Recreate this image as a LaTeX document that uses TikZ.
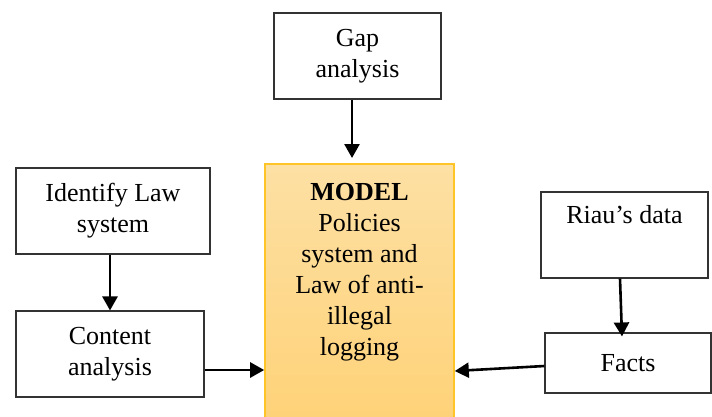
\documentclass[tikz,border=0pt]{standalone}
\usepackage{fontspec}
\setmainfont{Liberation Serif}
\usetikzlibrary{arrows.meta}
\usetikzlibrary{positioning}
\definecolor{modeltop}{RGB}{253,224,164}
\definecolor{modelbottom}{RGB}{254,210,120}
\definecolor{modelline}{RGB}{255,196,40}

\begin{document}
\begin{tikzpicture}[x=1pt,y=-1pt,->,>={Triangle[length=14pt,width=15pt]},line width=2.6pt,
		font=\fontsize{26}{31}\selectfont]
		\tikzstyle{box}=[draw=black!80,line width=1.1pt,align=center,inner sep=0pt]
		\tikzstyle{modelbox}=[draw=modelline,line width=1.6pt,top color=modeltop,bottom color=modelbottom]
		\useasboundingbox (0,0) rectangle (712,416);
		
		\node[box,minimum width=167pt,minimum height=86pt] (gap)     at (357.5,56)  {Gap\\analysis};
		\node[modelbox,minimum width=189pt,minimum height=256pt,anchor=north] (model) at (359.5,163) {};
		\node[align=center,inner sep=0pt] (modeltext) [below=19pt of model.north]
			{\textbf{MODEL}\\Policies\\system and\\Law of anti-\\illegal\\logging};
		\node[box,minimum width=194pt,minimum height=86pt] (ident)   at (113,211)   {Identify Law\\system};
		\node[box,minimum width=188pt,minimum height=86pt] (content) at (110,354)   {Content\\analysis};
		\node[box,minimum width=167pt,minimum height=86pt] (riau)    at (624.5,235) {Riau’s data\\\strut};
		\node[box,minimum width=166pt,minimum height=60pt] (facts)   at (628,363)   {Facts};
		
		\path
		([xshift=-5.5pt]gap.south) edge ([xshift=-7.5pt,yshift=5pt]model.north)
		([xshift=-3pt]ident.south) edge (content.north)
		([yshift=-16pt]content.east) edge ([yshift=-16pt]content.east -| model.west)
		([xshift=-4.5pt]riau.south) edge ([xshift=-6pt,yshift=-4pt]facts.north)
		([yshift=-3pt]facts.west) edge ([yshift=-8pt]facts.west -| model.east);
\end{tikzpicture}
\end{document}
